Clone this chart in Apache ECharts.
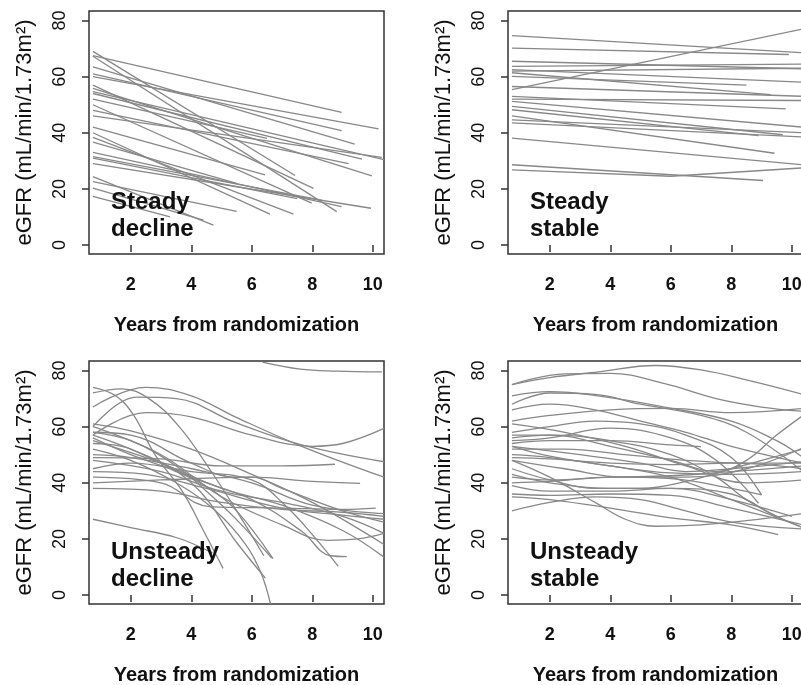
<!DOCTYPE html>
<html>
<head>
<meta charset="utf-8">
<script src="https://cdn.jsdelivr.net/npm/echarts@6/dist/echarts.min.js"></script>
<style>
  html, body { margin: 0; padding: 0; background: #fff; }
  #main { width: 801px; height: 685px; }
</style>
</head>
<body>
<div id="main"></div>
<script>
var xTicks = [2, 4, 6, 8, 10];
var yTicks = [0, 20, 40, 60, 80];
var panelLabels = ['Steady\ndecline', 'Steady\nstable', 'Unsteady\ndecline', 'Unsteady\nstable'];

// each line = list of [years, eGFR]
var steadyDecline = [
    [[0.75, 69], [7.43, 24.8]],
    [[0.75, 67.3], [8.81, 11.9]],
    [[0.75, 67.5], [8.97, 47.3]],
    [[0.75, 63.5], [9.4, 36]],
    [[0.75, 60], [10.19, 41.4]],
    [[0.75, 61], [8.97, 40.8]],
    [[0.75, 57], [8.04, 20.2]],
    [[0.75, 54.7], [10.37, 30.4]],
    [[0.75, 54], [9.64, 30.6]],
    [[0.75, 55.8], [9.97, 24.6]],
    [[0.75, 52], [6.5, 38]],
    [[0.75, 48], [9.2, 29]],
    [[0.75, 46], [10.3, 31.2]],
    [[0.75, 42], [6.44, 25]],
    [[0.75, 50], [7.98, 14.9]],
    [[0.75, 40], [6.6, 11]],
    [[0.75, 38.4], [7.38, 11]],
    [[0.75, 36.7], [5.5, 22]],
    [[0.75, 33], [8.97, 13.7]],
    [[0.75, 31.5], [8.3, 16]],
    [[0.75, 31], [7.5, 16.5]],
    [[0.75, 29], [9.94, 13.1]],
    [[0.75, 24.4], [4.73, 7.1]],
    [[0.75, 22.6], [5.5, 12]],
    [[0.75, 20.3], [4.4, 8.9]],
    [[0.75, 17.3], [3.3, 10]]
];

var steadyStable = [
    [[0.75, 74.6], [10.37, 68.5]],
    [[0.75, 70.2], [9.9, 67.9]],
    [[0.75, 55.4], [10.37, 77]],
    [[0.75, 65.5], [10.37, 62.8]],
    [[0.75, 63.7], [10.37, 64.5]],
    [[0.75, 62.5], [10.37, 58]],
    [[0.75, 62], [10.37, 63]],
    [[0.75, 61.4], [9.3, 53.6]],
    [[0.75, 60.1], [8.5, 57]],
    [[0.75, 56.5], [10.37, 53]],
    [[0.75, 53], [9.8, 48.5]],
    [[0.75, 52], [10.37, 51.5]],
    [[0.75, 51.2], [10.37, 42]],
    [[0.75, 49.4], [9.7, 39.3]],
    [[0.75, 48.2], [8.9, 39]],
    [[0.75, 46], [9.43, 32.7]],
    [[0.75, 44.6], [10.37, 40]],
    [[0.75, 43.5], [10.37, 38.5]],
    [[0.75, 38.1], [10.37, 28.6]],
    [[0.75, 28.6], [9.05, 23]],
    [[0.75, 26.8], [6, 24.5], [10.37, 27.5]]
];

var unsteadyDecline = [
    [[6.35, 83], [7.6, 80.5], [8.8, 79.8], [10.3, 79.5]],
    [[0.75, 74], [1.5, 71], [2.1, 64], [2.8, 50], [3.7, 37], [4.4, 23], [5.05, 9.5]],
    [[0.75, 67], [2.5, 74], [4, 71], [5.45, 63.5], [7.65, 53], [10.37, 42]],
    [[0.75, 60], [2.2, 70.5], [3.5, 70], [5.45, 61.5], [7.65, 53.5], [10.37, 47.5]],
    [[0.75, 57], [2.5, 65], [4, 63.5], [6, 57], [8, 53], [9, 54], [10.37, 59.4]],
    [[0.75, 72], [1.7, 73.5], [2.6, 70], [3.6, 60], [4.6, 45], [5.5, 30], [6.4, 14]],
    [[0.75, 27], [2, 24], [3.5, 20.5], [4.7, 15]],
    [[0.75, 52], [2, 48], [3.5, 40], [4.8, 30], [5.8, 18], [6.3, 8], [6.62, -3.2]],
    [[0.75, 58], [2, 55], [3.5, 46], [4.5, 37], [5.45, 27.4], [6.66, 13.2]],
    [[0.75, 54], [2, 52], [4, 40], [5.55, 18], [6.45, 6]],
    [[0.75, 45], [2, 47], [4, 44], [6, 41], [7.1, 32], [8.1, 20.3], [8.86, 10.2]],
    [[0.75, 40], [3, 41], [6, 42], [8, 40.5], [9.58, 39.8]],
    [[0.75, 49], [3, 48.5], [5, 46], [7, 46], [8.75, 46.6]],
    [[0.75, 57], [2, 52], [4, 42], [6, 34], [7.65, 22.7], [8.6, 14], [9.14, 13.7]],
    [[0.75, 55], [3, 47], [5, 38], [7, 32], [9, 23], [10.37, 13.5]],
    [[0.75, 48], [3, 44], [5, 37], [7, 33], [9, 28], [10.37, 22]],
    [[0.75, 44], [2.5, 43], [4.5, 38], [7, 31], [9, 28.5], [10.37, 27]],
    [[0.75, 38], [3, 37], [5, 33], [7, 30.5], [9, 29.5], [10.37, 28]],
    [[0.75, 60], [3, 50], [5, 35], [7, 25], [8.5, 19.5], [9.5, 20], [10.37, 22]],
    [[0.75, 42], [3, 40], [4.6, 31.5], [7, 31], [9, 30.5], [10.1, 31]],
    [[0.75, 58], [2, 57], [4, 47], [5.45, 42], [6, 42], [7, 38], [9, 30], [10.37, 26]],
    [[0.75, 61], [2, 58.5], [4, 52], [6, 43], [8, 33], [10.37, 18]],
    [[0.75, 56], [2, 50], [3.5, 44], [4.6, 38], [5.5, 30], [6.7, 13]],
    [[0.75, 50], [2, 49], [4, 45], [6, 40], [8, 32], [10.37, 29]]
];

var unsteadyStable = [
    [[0.75, 75], [2, 77.5], [3.6, 79.5], [5.5, 81.8], [7, 80.2], [8.6, 76.4], [10.37, 71.5]],
    [[0.75, 75], [2.5, 78.8], [4, 79], [5.8, 75.3], [7.5, 70], [9, 67], [10.37, 65.5]],
    [[0.75, 71], [2, 72.5], [3.6, 71], [5.8, 67], [8, 62], [9.5, 55], [10.37, 49]],
    [[0.75, 68], [2, 72], [3.5, 71.5], [5, 68], [7, 64], [8.5, 58], [10.37, 44]],
    [[0.75, 66], [2, 68], [3.5, 66], [5, 62], [6.5, 58], [8, 53], [10.37, 47]],
    [[0.75, 62], [2, 64], [4, 66], [6, 66.5], [8, 65], [10.37, 66.5]],
    [[0.75, 58], [2, 60], [3.5, 62], [5, 61], [6.5, 57], [8, 49], [9, 35.7]],
    [[0.75, 55], [2, 56], [4, 59.5], [6, 56], [7.5, 48], [8.9, 32.7]],
    [[0.75, 56], [2, 57], [4, 53], [6, 48], [7.5, 44], [8.5, 48], [9.5, 57], [10.37, 64]],
    [[0.75, 54], [2, 55], [4, 55], [6, 53.5], [7, 52.9]],
    [[0.75, 53], [3, 50], [5, 47], [6.5, 44], [8, 45], [10.37, 47.5]],
    [[0.75, 52], [2.5, 52], [4.5, 50], [6.5, 48], [8.5, 47], [10.37, 47]],
    [[0.75, 50], [2, 49], [4, 46], [6, 42], [8, 34], [10.37, 24]],
    [[0.75, 49], [2, 48.5], [4, 47], [6, 46.5], [8, 47], [10.37, 45]],
    [[0.75, 48], [2.5, 45], [4.5, 42], [6.5, 42], [8.5, 45], [10.37, 52.5]],
    [[0.75, 45], [2, 41], [3.5, 38], [5, 38], [6.5, 40.5], [8, 45], [10.37, 52]],
    [[0.75, 43], [2, 40], [4, 38], [6, 38], [8, 36], [9.5, 28], [10.37, 24]],
    [[0.75, 40], [2, 40.5], [4, 42], [6, 41.5], [8, 38], [9, 35.7]],
    [[0.75, 39], [2, 37], [4, 37], [6, 38], [8, 34], [10, 28]],
    [[0.75, 36], [2, 35.5], [4, 36], [6, 35.5], [8, 31], [10.37, 25]],
    [[0.75, 35], [2, 34], [4, 31], [6, 27.5], [8, 25], [9.55, 21.5]],
    [[0.75, 30], [2, 33], [3.5, 35], [5, 34], [6.5, 30], [8, 26], [10.37, 23.5]],
    [[0.75, 48], [2, 42], [3.5, 33], [4.5, 27], [5.5, 24.5], [7, 25], [8.5, 26.5], [10.37, 29]],
    [[0.75, 57], [2, 57], [4, 55], [6, 50], [7.5, 42], [8.5, 34], [9.5, 28]],
    [[0.75, 61], [2.5, 58], [4.5, 53], [6.5, 46], [8.5, 40], [10.37, 41]],
    [[0.75, 53], [2, 49.5], [4, 46], [6, 43.5], [8, 43], [10.37, 44]],
    [[0.75, 42], [2, 41], [4, 42], [6, 42.5], [8, 44], [10.37, 46]]
];

var font = "'Liberation Sans', Arial, sans-serif";
var lineColor = '#888';

// grid boxes: [left, top]
var boxes = [[89, 11], [508, 11], [89, 361], [508, 361]];
var panels = [
    { lines: steadyDecline, smooth: false },
    { lines: steadyStable, smooth: false },
    { lines: unsteadyDecline, smooth: 0.4 },
    { lines: unsteadyStable, smooth: 0.4 }
];

var grids = [], xAxes = [], yAxes = [], series = [], titles = [];

boxes.forEach(function (b, i) {
    grids.push({
        left: b[0], top: b[1], width: 295, height: 243,
        outerBoundsMode: 'none',
        show: true, borderColor: '#333', borderWidth: 1.5
    });
    xAxes.push({
        gridIndex: i, type: 'value', min: 0.62, max: 10.37,
        name: 'Years from randomization', nameLocation: 'middle', nameGap: 61,
        nameTextStyle: { fontSize: 20, fontWeight: 'bold', color: '#111', fontFamily: font },
        axisLine: { show: false },
        axisTick: { show: true, length: 7, customValues: xTicks, lineStyle: { color: '#333', width: 1.5 } },
        axisLabel: { customValues: xTicks, fontSize: 18, fontWeight: 'bold', color: '#111', margin: 22, fontFamily: font },
        splitLine: { show: false }
    });
    yAxes.push({
        gridIndex: i, type: 'value', min: -3.2, max: 83.4,
        name: 'eGFR (mL/min/1.73m²)', nameLocation: 'middle', nameRotate: 90, nameGap: 53,
        nameTextStyle: { fontSize: 22, color: '#111', fontFamily: font },
        axisLine: { show: false },
        axisTick: { show: true, length: 7, customValues: yTicks, lineStyle: { color: '#333', width: 1.5 } },
        axisLabel: { customValues: yTicks, rotate: 90, fontSize: 18, color: '#111', margin: 20, fontFamily: font },
        splitLine: { show: false }
    });
    titles.push({
        text: panelLabels[i], left: b[0] + 22, top: b[1] + 178, padding: 0,
        textStyle: { fontSize: 24, fontWeight: 'bold', lineHeight: 27, color: '#111', fontFamily: font }
    });
    panels[i].lines.forEach(function (pts) {
        series.push({
            type: 'line', xAxisIndex: i, yAxisIndex: i, data: pts,
            smooth: panels[i].smooth, showSymbol: false, symbol: 'none',
            silent: true, animation: false,
            lineStyle: { color: lineColor, width: 1.3 }
        });
    });
});

var myChart = echarts.init(document.getElementById('main'));
myChart.setOption({
    backgroundColor: '#fff',
    animation: false,
    title: titles,
    grid: grids,
    xAxis: xAxes,
    yAxis: yAxes,
    series: series
});
</script>
</body>
</html>
